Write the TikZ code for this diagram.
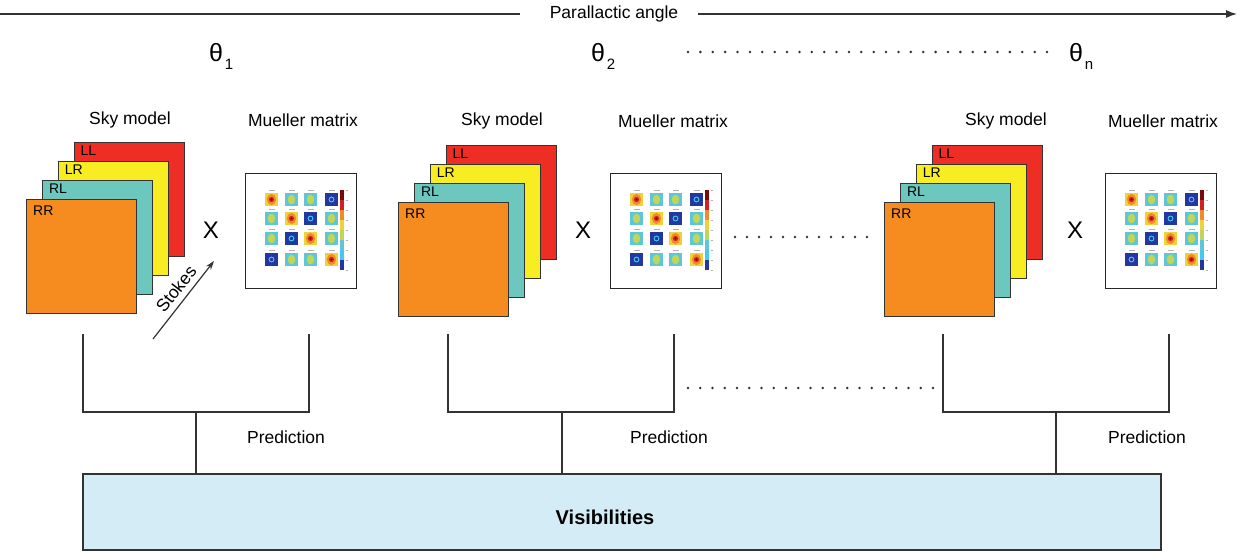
\documentclass[tikz,border=0pt]{standalone}
\usepackage{fontspec}
\setmainfont{Liberation Sans}
\usetikzlibrary{arrows.meta,calc}
\definecolor{cLL}{HTML}{EE2E24}
\definecolor{cLR}{HTML}{F8EC23}
\definecolor{cRL}{HTML}{6CC8BF}
\definecolor{cRR}{HTML}{F68B1F}
\definecolor{cVis}{HTML}{D4ECF5}
\definecolor{ln}{HTML}{333333}
\definecolor{mYel}{HTML}{EFD23A}
\definecolor{mOra}{HTML}{F08A2A}
\definecolor{mRed}{HTML}{D42020}
\definecolor{mDRed}{HTML}{7A0A0A}
\definecolor{mBlue}{HTML}{23389E}
\definecolor{mRing}{HTML}{45C8F0}
\definecolor{mCyan}{HTML}{5EC6D6}
\definecolor{mGreen}{HTML}{BFD658}
\tikzset{
  layer/.style={draw=ln, line width=1.2pt, minimum width=110pt, minimum height=114pt, inner sep=0pt, anchor=north west},
  laylab/.style={font=\fontsize{14}{16}\selectfont, anchor=north west, inner sep=0pt},
  lab/.style={font=\fontsize{17.5}{20}\selectfont, inner sep=0pt},
  times/.style={font=\fontsize{24}{28}\selectfont, inner sep=0pt},
  thet/.style={font=\fontsize{25}{28}\selectfont, inner sep=0pt, anchor=base},
  thsub/.style={font=\fontsize{15}{18}\selectfont, inner sep=0pt, anchor=base},
  mbox/.style={draw=black!85, line width=1.1pt, fill=white, minimum width=111pt, minimum height=115pt, inner sep=0pt, anchor=north west},
  br/.style={draw=ln, line width=1.3pt},
  visbox/.style={draw=ln, line width=1.3pt, fill=cVis, minimum width=1078pt, minimum height=76pt, inner sep=0pt},
  dotc/.style={fill=ln}
}
\newcommand\tileD[2]{%
  \fill[mYel] (#1,#2) rectangle ++(13,13);
  \fill[mOra] (#1+6.5,#2+6.5) ellipse (4.6 and 5.6);
  \fill[mRed] (#1+6.5,#2+6.5) circle (2.6);
  \fill[mDRed] (#1+6.5,#2+6.5) circle (1.1);
  \draw[gray!60, line width=0.5pt] (#1+3.5,#2-2.5) -- ++(6,0);}
\newcommand\tileA[2]{%
  \fill[mBlue] (#1,#2) rectangle ++(13,13);
  \draw[mRing, line width=0.9pt] (#1+6.5,#2+6.5) circle (2.4);
  \draw[gray!60, line width=0.5pt] (#1+3.5,#2-2.5) -- ++(6,0);}
\newcommand\tileO[2]{%
  \fill[mCyan] (#1,#2) rectangle ++(13,13);
  \fill[mGreen] (#1+6.5,#2+6.5) ellipse (3.8 and 4.8);
  \draw[gray!60, line width=0.5pt] (#1+3.5,#2-2.5) -- ++(6,0);}
\newcommand\mmatrix[3]{%
  \node[mbox] (mm#1) at (#2,#3) {};
  \begin{scope}[shift={(#2,#3)}]
    \tileD{20}{20}\tileO{40}{20}\tileO{59}{20}\tileA{80}{20}
    \tileO{20}{39}\tileD{40}{39}\tileA{59}{39}\tileO{80}{39}
    \tileO{20}{59}\tileA{40}{59}\tileD{59}{59}\tileO{80}{59}
    \tileA{20}{80}\tileO{40}{80}\tileO{59}{80}\tileD{80}{80}
    \foreach \c [count=\k from 0] in {mDRed,mRed,mOra,mYel,mGreen,mCyan,mRing,mBlue}
      \fill[\c] (95,17+\k*10) rectangle ++(4,10);
    \foreach \k in {0,...,8}
      \draw[gray!60, line width=0.4pt] (100.5,17+\k*10) -- ++(2,0);
  \end{scope}}
\newcommand\skystack[3]{%
  \node[layer, fill=cLL] (ll#1) at (#2+47.5,#3-57) {};
  \node[layer, fill=cLR] (lr#1) at (#2+31.7,#3-38) {};
  \node[layer, fill=cRL] (rl#1) at (#2+15.8,#3-19) {};
  \node[layer, fill=cRR] (rr#1) at (#2,#3) {};
  \node[laylab] (tll#1) at ($(ll#1.north west)+(7,4)$) {LL};
  \node[laylab] (tlr#1) at ($(lr#1.north west)+(7,4)$) {LR};
  \node[laylab] (trl#1) at ($(rl#1.north west)+(7,4)$) {RL};
  \node[laylab] (trr#1) at ($(rr#1.north west)+(7,7)$) {RR};}
\begin{document}
\begin{tikzpicture}[x=1pt,y=-1pt]
\useasboundingbox (0,0) rectangle (1242,553);
% top arrow
\node[lab] (pa) at (614,14) {Parallactic angle};
\coordinate (pa0) at (0,14);
\coordinate (pa1) at (1237,14);
\draw[ln, line width=1.3pt] (pa0) -- ([xshift=-30pt]pa.west);
\draw[ln, line width=1.3pt, -{Latex[length=11pt,width=8pt]}] ([xshift=20pt]pa.east) -- (pa1);
% thetas
\node[thet] (th1) at (216,62) {θ};
\node[thsub] (th1s) at (229,70) {1};
\node[thet] (th2) at (598,62) {θ};
\node[thsub] (th2s) at (611,70) {2};
\node[thet] (thn) at (1076,62) {θ};
\node[thsub] (thns) at (1089,70) {n};
\foreach \i in {0,...,29} \fill[dotc] (688+\i*12.38,52) circle (1.4);
% headings
\node[lab] (sm1) at (130,120) {Sky model};
\node[lab] (mu1) at (303,120) {Mueller matrix};
\node[lab] (sm2) at (502,121) {Sky model};
\node[lab] (mu2) at (673,121) {Mueller matrix};
\node[lab] (sm3) at (1006,121) {Sky model};
\node[lab] (mu3) at (1163,121) {Mueller matrix};
% stacks
\skystack{1}{26}{199}
\skystack{2}{398}{202}
\skystack{3}{884}{202}
% mueller
\mmatrix{1}{245}{173}
\mmatrix{2}{610}{173}
\mmatrix{3}{1105}{173}
% times
\node[times] (x1) at (211,230) {X};
\node[times] (x2) at (583,230) {X};
\node[times] (x3) at (1075,230) {X};
\foreach \i in {0,...,11} \fill[dotc] (735+\i*12,237) circle (1.4);
% stokes
\coordinate (st0) at (153,339);
\coordinate (st1) at (214,261);
\draw[ln, line width=1.2pt, -{Stealth[length=9pt,width=6pt]}] (st0) -- (st1);
\node[lab, rotate=52] (stk) at (176,289) {Stokes};
% visibilities
\node[visbox] (vis) at (622,512) {};
\node[font=\bfseries\fontsize{20}{24}\selectfont, inner sep=0pt] (vist) at (605,517) {Visibilities};
% brackets
\coordinate (b1l) at (83,334);  \coordinate (b1r) at (309,334);
\coordinate (b2l) at (448,334); \coordinate (b2r) at (674,334);
\coordinate (b3l) at (943,334); \coordinate (b3r) at (1169,334);
\draw[br] (b1l) -- ++(0,78) -| (b1r);
\draw[br] (b2l) -- ++(0,78) -| (b2r);
\draw[br] (b3l) -- ++(0,78) -| (b3r);
\coordinate (s1) at (196,412);
\coordinate (s2) at (562,412);
\coordinate (s3) at (1056,412);
\draw[br] (s1) -- (s1 |- vis.north);
\draw[br] (s2) -- (s2 |- vis.north);
\draw[br] (s3) -- (s3 |- vis.north);
\foreach \i in {0,...,20} \fill[dotc] (688+\i*12.25,388) circle (1.4);
\node[lab] (pr1) at (286,437) {Prediction};
\node[lab] (pr2) at (669,437) {Prediction};
\node[lab] (pr3) at (1147,437) {Prediction};
\end{tikzpicture}
\end{document}
